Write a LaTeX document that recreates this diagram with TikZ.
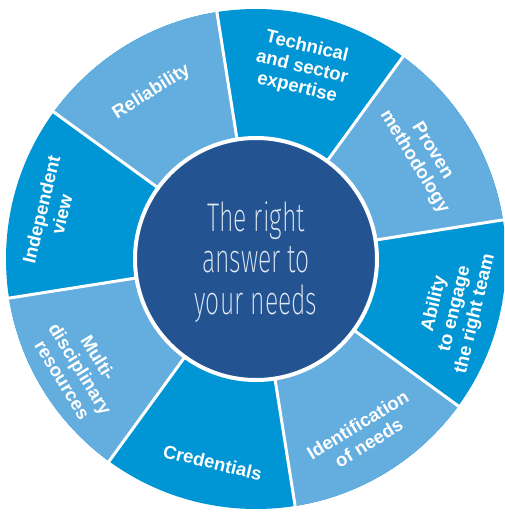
\documentclass[tikz,border=0pt]{standalone}
\usepackage{fontspec}
\setmainfont{Liberation Sans}
\IfFontExistsTF{Fira Sans ExtraLight}
  {\newfontfamily\thinfont[FakeStretch=0.62]{Fira Sans ExtraLight}}
  {\IfFontExistsTF{Fira Sans Light}
     {\newfontfamily\thinfont[FakeStretch=0.62]{Fira Sans Light}}
     {\newfontfamily\thinfont[FakeStretch=0.62]{Liberation Sans}}}
\definecolor{ringdark}{RGB}{0,150,214}
\definecolor{ringlight}{RGB}{99,174,223}
\definecolor{coreblue}{RGB}{35,84,145}
\definecolor{coretext}{RGB}{225,234,245}
\begin{document}
\begin{tikzpicture}[x=1pt,y=1pt,
  seglabel/.style={text=white,font=\fontsize{18.5}{21}\selectfont\bfseries,align=center,inner sep=0pt},
  divider/.style={draw=white,line width=3pt},
  corecircle/.style={circle,fill=coreblue,draw=white,line width=4pt,minimum size=242pt,inner sep=0pt}]
\useasboundingbox (-256,-253) rectangle (248,259);
\clip (-256,-253) rectangle (248,259);
\fill[ringdark] (0,0) circle (250);
\foreach \a in {9,99,189,279}
  \fill[ringlight] (0,0) -- (\a:250) arc[start angle=\a, end angle=\a+45, radius=250] -- cycle;
\foreach \a in {9,54,...,324}
  \draw[divider] (0,0) -- (\a:255);
\node[corecircle] (core) at (0,0) {};
\node[text=coretext,font=\thinfont\fontsize{40}{41.5}\selectfont,align=center,inner sep=0pt] (answer) at (0,-3) {The right\\answer to\\your needs};
\node[seglabel,rotate=32] (rel) at (122:197) {Reliability};
\node[seglabel,rotate=-13.5] (tech) at (76.5:197) {Technical\\and sector\\expertise};
\node[seglabel,rotate=-58.5] (prov) at (31.5:196) {Proven\\methodology};
\node[seglabel,rotate=76.5] (abil) at (-14:205) {Ability\\to engage\\the right team};
\node[seglabel,rotate=31.5] (ident) at (-58.5:205) {Identification\\of needs};
\node[seglabel,rotate=-13.5] (cred) at (-102:208) {Credentials};
\node[seglabel,rotate=-58.5] (multi) at (212:207) {Multi-\\disciplinary\\resources};
\node[seglabel,rotate=76.5] (indep) at (167:210) {Independent\\view};
\end{tikzpicture}
\end{document}
